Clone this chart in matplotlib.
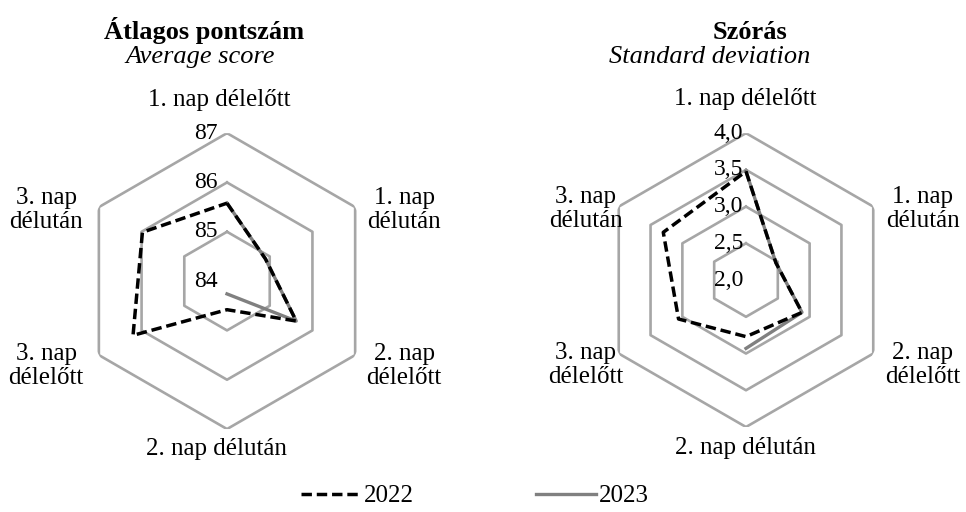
import numpy as np
import matplotlib.pyplot as plt
from matplotlib import transforms
from matplotlib.lines import Line2D

categories = ["1. nap délelőtt", "1. nap\ndélután", "2. nap\ndélelőtt",
              "2. nap délután", "3. nap\ndélelőtt", "3. nap\ndélután"]

avg_2022 = [85.58, 84.90, 85.62, 84.58, 86.20, 85.98]
avg_2023 = [85.58, 84.90, 85.62, 84.26, np.nan, np.nan]
avg_ticks = [84, 85, 86, 87]
avg_ticklabels = ["84", "85", "86", "87"]

sd_2022 = [3.48, 2.47, 2.88, 2.77, 3.06, 3.30]
sd_2023 = [3.48, 2.47, 2.88, 2.93, np.nan, np.nan]
sd_ticks = [2.0, 2.5, 3.0, 3.5, 4.0]
sd_ticklabels = ["2,0", "2,5", "3,0", "3,5", "4,0"]

titles = [("Átlagos pontszám", "Average score"), ("Szórás", "Standard deviation")]
series_names = ["2022", "2023"]

plt.rcParams["font.family"] = ["Liberation Serif", "DejaVu Serif"]
plt.rcParams["font.size"] = 18

GRID = "#a6a6a6"
C2022 = "black"
C2023 = "#808080"
DASH = (0, (3.0, 1.4))

# pixel offsets of category labels from the chart centre
offsets_left = [(-8, -181), (177, -71), (177, 85), (-11, 168), (-181, 85), (-181, -71)]
offsets_right = [(-1, -181), (177, -71), (177, 85), (-1, 168), (-160, 85), (-160, -71)]

fig = plt.figure(figsize=(9.66, 5.12), dpi=100)

# rect, values, ticks, tick label x-shift, label offsets, title centres (px)
panels = [
    ([0.0818, 0.162, 0.3064, 0.578], avg_2022, avg_2023, avg_ticks, avg_ticklabels,
     -9, offsets_left, (204, 200)),
    ([0.6201, 0.166, 0.3043, 0.574], sd_2022, sd_2023, sd_ticks, sd_ticklabels,
     -3, offsets_right, (750, 710)),
]

n = len(categories)
theta = np.linspace(0, 2 * np.pi, n, endpoint=False)
theta_closed = np.append(theta, theta[0])

for (rect, s22, s23, ticks, ticklabels, tdx, offs, tx), (t1, t2) in zip(panels, titles):
    ax = fig.add_axes(rect, projection="polar")
    ax.set_theta_offset(np.pi / 2)
    ax.set_theta_direction(-1)
    ax.set_ylim(ticks[0], ticks[-1])
    ax.grid(False)
    ax.spines["polar"].set_visible(False)
    ax.set_xticks([])
    ax.set_yticks([])
    ax.patch.set_visible(False)

    # hexagonal grid rings
    for lev in ticks[1:]:
        ax.plot(theta_closed, [lev] * (n + 1), color=GRID, lw=1.9, zorder=1)

    ax.plot(theta_closed, list(s22) + [s22[0]], color=C2022, lw=2.5,
            linestyle=DASH, zorder=3)
    ax.plot(theta_closed, list(s23) + [s23[0]], color=C2023, lw=2.4,
            zorder=2)

    off = transforms.offset_copy(ax.transData, fig=fig, x=tdx, y=0, units="dots")
    for lev, lab in zip(ticks, ticklabels):
        ax.text(0, lev, lab, transform=off, ha="right", va="center",
                fontsize=17, zorder=4)

    for lab, (dx, dy) in zip(categories, offs):
        ax.annotate(lab, xy=(0.5, 0.5), xycoords="axes fraction",
                    xytext=(dx, -dy), textcoords="offset pixels",
                    ha="center", va="center", linespacing=1.12,
                    annotation_clip=False)

    fig.text(tx[0] / 966, 1 - 39 / 512, t1, ha="center", va="baseline",
             fontweight="bold", fontsize=19)
    fig.text(tx[1] / 966, 1 - 63 / 512, t2, ha="center", va="baseline",
             fontstyle="italic", fontsize=19)

handles = [Line2D([], [], color=C2022, lw=2.5, linestyle=DASH),
           Line2D([], [], color=C2023, lw=2.4)]
fig.legend(handles, series_names, loc="lower center", bbox_to_anchor=(0.4917, -0.035),
           ncol=2, frameon=False, handlelength=2.4, handletextpad=0.12,
           columnspacing=4.9)

fig.savefig("out.png", dpi=100)
